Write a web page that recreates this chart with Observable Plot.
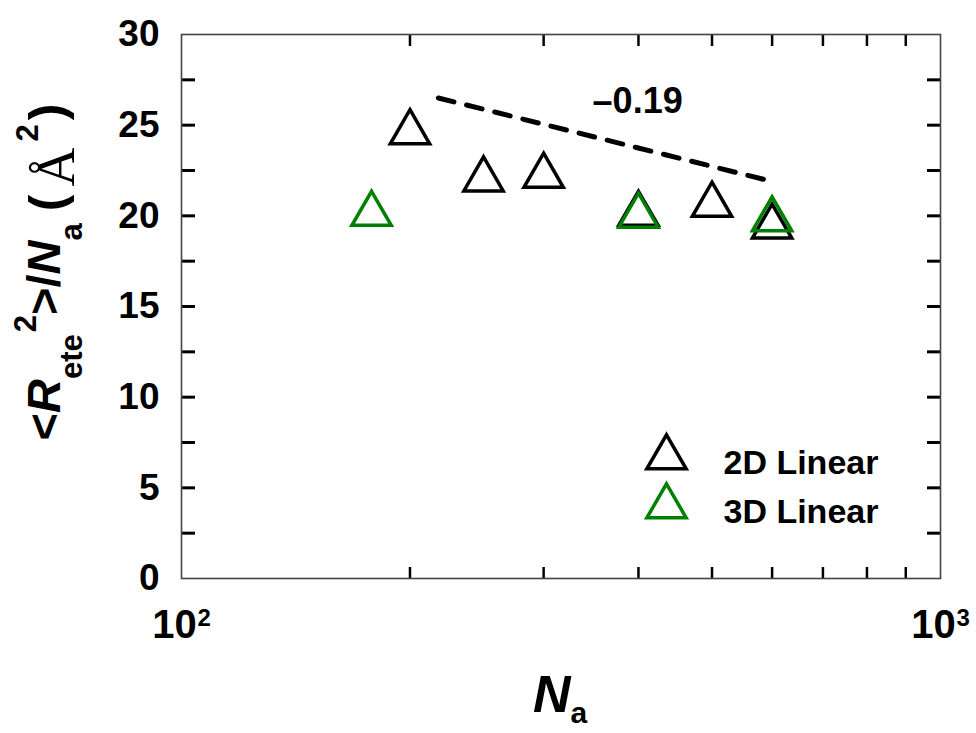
<!DOCTYPE html>
<html>
<head>
<meta charset="utf-8">
<script src="https://cdn.jsdelivr.net/npm/d3@7"></script>
<script src="https://cdn.jsdelivr.net/npm/@observablehq/plot@0.6"></script>
<style>
  html, body { margin: 0; padding: 0; background: #fff; }
  #chart svg { display: block; }
</style>
</head>
<body>
<div id="chart"></div>
<script>
// ---- data ----
const nA2D = [200, 250, 300, 400, 500, 600];
const r2D  = [24.6, 22.0, 22.2, 20.1, 20.6, 19.4];
const nA3D = [178, 400, 600];
const r3D  = [20.1, 20.0, 19.8];
const slopeN = [218, 593];
const slopeR = [26.5, 21.95];
const slopeText = ["–0.19"];
const slopeTextN = [399];
const slopeTextR = [26.3];
const seriesNames = ["2D Linear", "3D Linear"];
const seriesColors = ["#000000", "#008000"];
const yTickValues = [0, 5, 10, 15, 20, 25, 30];
const yMinorTicks = [2.5, 5, 7.5, 10, 12.5, 15, 17.5, 20, 22.5, 25, 27.5];
const xMinorTicks = [200, 300, 400, 500, 600, 700, 800, 900];
const xMajorTicks = [100, 1000];
const xMajorExp = ["2", "3"];

const pts2D = nA2D.map((n, i) => ({n, r: r2D[i]}));
const pts3D = nA3D.map((n, i) => ({n, r: r3D[i]}));
const slope = slopeN.map((n, i) => ({n, r: slopeR[i]}));
const slopeLab = slopeText.map((t, i) => ({t, n: slopeTextN[i], r: slopeTextR[i]}));

const bold = {fontWeight: "bold", fill: "black"};
const triR = 14.6;
const triW = 3.5;

const plot = Plot.plot({
  width: 976,
  height: 733,
  marginLeft: 181,
  marginRight: 36,
  marginTop: 34,
  marginBottom: 155,
  style: {fontFamily: "'Liberation Sans', Arial, sans-serif", background: "white", color: "black"},
  x: {type: "log", domain: [100, 1000]},
  y: {domain: [0, 30]},
  marks: [
    // y tick labels
    Plot.axisY(yTickValues, {anchor: "left", tickSize: 0, tickPadding: 22, fontSize: 37, fontWeight: "bold", label: null}),
    // inward ticks, left and right
    Plot.axisY(yMinorTicks, {anchor: "right", frameAnchor: "left", tickSize: 13, strokeWidth: 3, tickFormat: () => "", label: null}),
    Plot.axisY(yMinorTicks, {anchor: "left", frameAnchor: "right", tickSize: 13, strokeWidth: 3, tickFormat: () => "", label: null}),
    // inward ticks, bottom and top
    Plot.axisX(xMinorTicks, {anchor: "top", frameAnchor: "bottom", tickSize: 12, strokeWidth: 2.5, tickFormat: () => "", label: null}),
    Plot.axisX(xMinorTicks, {anchor: "bottom", frameAnchor: "top", tickSize: 12, strokeWidth: 2.5, tickFormat: () => "", label: null}),
    // x major labels 10^2, 10^3
    Plot.text(xMajorTicks, {x: d => d, text: () => "10", frameAnchor: "bottom", dy: 59, dx: -7, lineAnchor: "bottom", textAnchor: "middle", fontSize: 40, ...bold}),
    Plot.text(xMajorTicks, {x: d => d, text: (d, i) => xMajorExp[i], frameAnchor: "bottom", dy: 47, dx: 16, lineAnchor: "bottom", textAnchor: "start", fontSize: 24, ...bold}),
    Plot.frame({stroke: "#444", strokeWidth: 1.6}),
    // slope guide
    Plot.line(slope, {x: "n", y: "r", stroke: "black", strokeWidth: 5, strokeDasharray: "16,13", strokeLinecap: "round"}),
    Plot.text(slopeLab, {x: "n", y: "r", text: "t", fontSize: 36, textAnchor: "middle", ...bold}),
    // data
    Plot.dot(pts2D, {x: "n", y: "r", symbol: "triangle", r: triR, stroke: seriesColors[0], strokeWidth: triW, fill: "none"}),
    Plot.dot(pts3D, {x: "n", y: "r", symbol: "triangle", r: triR, stroke: seriesColors[1], strokeWidth: triW, fill: "none"}),
    // legend
    Plot.dot([seriesNames[0]], {frameAnchor: "bottom-right", dx: -274, dy: -121, symbol: "triangle", r: triR, stroke: seriesColors[0], strokeWidth: triW, fill: "none"}),
    Plot.dot([seriesNames[1]], {frameAnchor: "bottom-right", dx: -274, dy: -72, symbol: "triangle", r: triR, stroke: seriesColors[1], strokeWidth: triW, fill: "none"}),
    Plot.text([seriesNames[0]], {frameAnchor: "bottom-right", dx: -217, dy: -105, text: d => d, textAnchor: "start", lineAnchor: "bottom", fontSize: 34, ...bold}),
    Plot.text([seriesNames[1]], {frameAnchor: "bottom-right", dx: -217, dy: -56, text: d => d, textAnchor: "start", lineAnchor: "bottom", fontSize: 34, ...bold})
  ]
});

document.getElementById("chart").appendChild(plot);

// axis titles with sub/superscripts (real text)
const svg = d3.select(plot);
const ff = "'Liberation Sans', Arial, sans-serif";

const xl = svg.append("text")
  .attr("x", 560).attr("y", 712)
  .attr("text-anchor", "middle")
  .attr("font-family", ff).attr("font-weight", "bold").attr("fill", "black");
xl.append("tspan").attr("font-size", 52).attr("font-style", "italic").text("N");
xl.append("tspan").attr("font-size", 30).attr("dy", 11).text("a");

const yl = svg.append("text")
  .attr("transform", "translate(60,272) rotate(-90)")
  .attr("text-anchor", "middle")
  .attr("font-family", ff).attr("font-weight", "bold").attr("fill", "black");
yl.append("tspan").attr("font-size", 47).text("<");
yl.append("tspan").attr("font-size", 47).attr("font-style", "italic").text("R");
yl.append("tspan").attr("font-size", 31).attr("dy", 22).text("ete");
yl.append("tspan").attr("font-size", 31).attr("dy", -46).attr("dx", 2).text("2");
yl.append("tspan").attr("font-size", 47).attr("dy", 24).text(">/");
yl.append("tspan").attr("font-size", 47).attr("font-style", "italic").text("N");
yl.append("tspan").attr("font-size", 31).attr("dy", 22).text("a");
yl.append("tspan").attr("font-size", 50).attr("dy", -18).attr("dx", 12).text("(");
yl.append("tspan").attr("font-size", 54).attr("dy", 10).attr("dx", 8)
  .attr("font-family", "'Liberation Serif', 'Times New Roman', serif").attr("font-weight", "normal").text("Å");
yl.append("tspan").attr("font-size", 31).attr("dy", -36).attr("dx", 6).text("2");
yl.append("tspan").attr("font-size", 50).attr("dy", 26).attr("dx", 4).text(")");
</script>
</body>
</html>
